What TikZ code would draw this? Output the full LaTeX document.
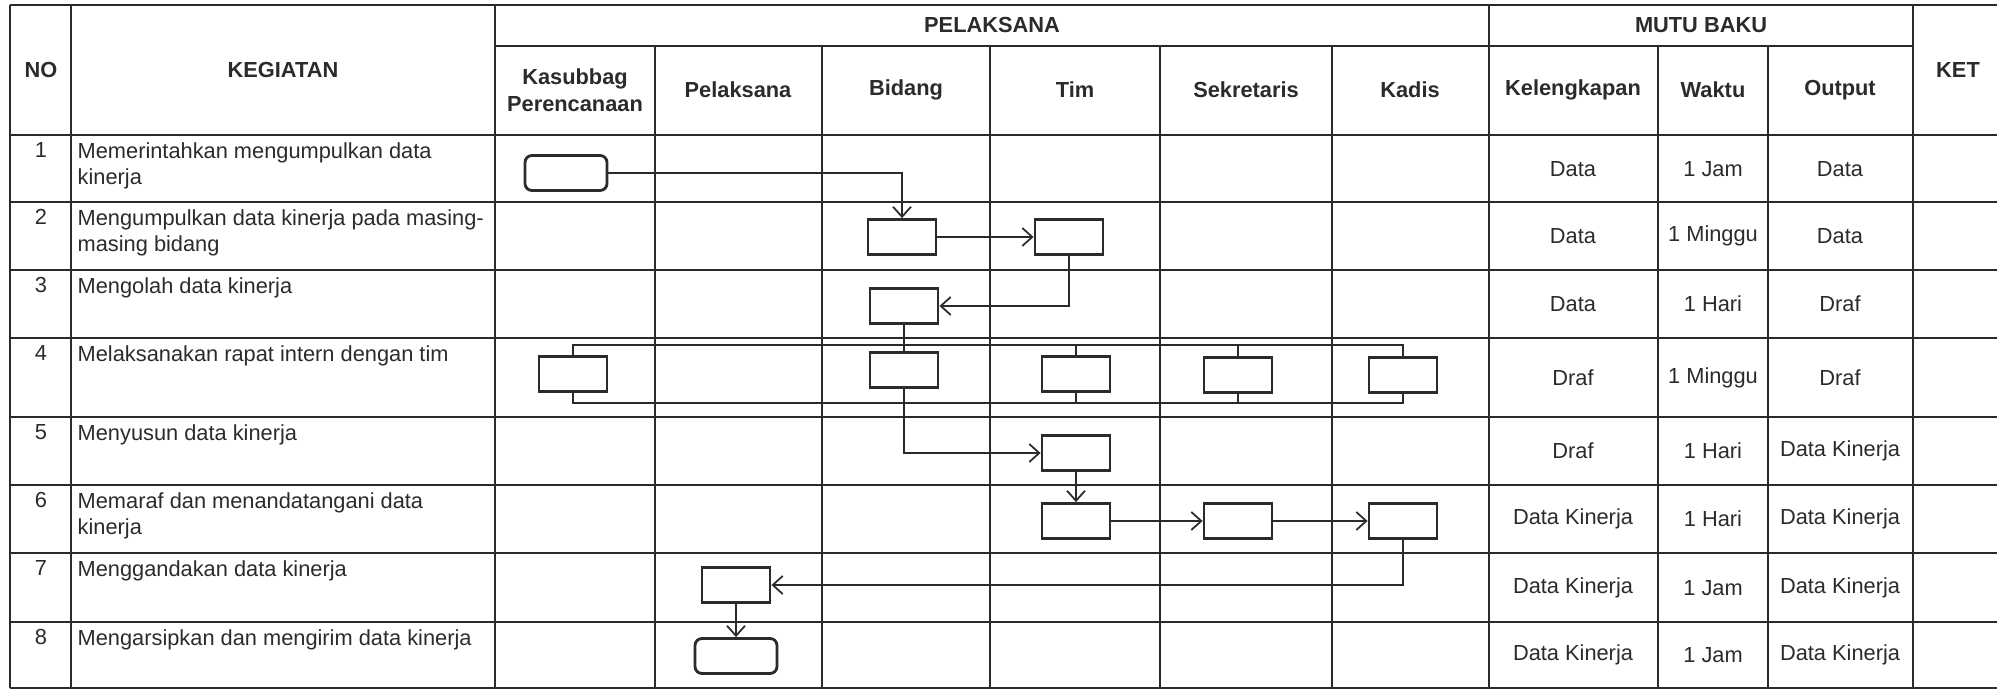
\documentclass[tikz,border=0pt]{standalone}
\usepackage{fontspec}
\setmainfont{Liberation Sans}
\usetikzlibrary{arrows.meta}
\tikzset{>={Straight Barb[length=1mm,width=1.8mm]}}
\definecolor{ink}{HTML}{2B2B2B}

\begin{document}
\begin{tikzpicture}[x=0.01cm,y=-0.01cm,color=ink,font=\fontsize{6.2}{7.4}\selectfont,
    act/.style = {draw, line width=0.8pt, minimum width=0.68cm, minimum height=0.35cm, inner sep=0pt},
    term/.style = {act, rounded corners=2pt, minimum width=0.82cm},
    hd/.style = {font=\fontsize{6.2}{7.8}\selectfont\bfseries, align=center},
    keg/.style = {anchor=north west, align=left, inner sep=0pt},
    num/.style = {anchor=north, inner sep=0pt},
    tline/.style = {line width=0.7pt},
    conn/.style = {line width=0.5pt}]
\useasboundingbox (0,0) rectangle (1997,689);
% table
\draw[tline] (10,5) -- (1997,5);
\draw[tline] (495,46) -- (1913,46);
\draw[tline] (10,135) -- (1997,135);
\draw[tline] (10,202) -- (1997,202);
\draw[tline] (10,270) -- (1997,270);
\draw[tline] (10,338) -- (1997,338);
\draw[tline] (10,417) -- (1997,417);
\draw[tline] (10,485) -- (1997,485);
\draw[tline] (10,553) -- (1997,553);
\draw[tline] (10,622) -- (1997,622);
\draw[tline] (10,688) -- (1997,688);
\draw[tline] (10,5) -- (10,688);
\draw[tline] (71,5) -- (71,688);
\draw[tline] (495,5) -- (495,688);
\draw[tline] (655,46) -- (655,688);
\draw[tline] (822,46) -- (822,688);
\draw[tline] (990,46) -- (990,688);
\draw[tline] (1160,46) -- (1160,688);
\draw[tline] (1332,46) -- (1332,688);
\draw[tline] (1489,5) -- (1489,688);
\draw[tline] (1658,46) -- (1658,688);
\draw[tline] (1768,46) -- (1768,688);
\draw[tline] (1913,5) -- (1913,688);

% headers
\node[hd] (hno) at (41,70) {NO};
\node[hd] (hkeg) at (283,70) {KEGIATAN};
\node[hd] (hpel) at (992,25) {PELAKSANA};
\node[hd] (hmutu) at (1701,25) {MUTU BAKU};
\node[hd] (hket) at (1958,70) {KET};
\node[hd] (hkas) at (575,90) {Kasubbag\\Perencanaan};
\node[hd] (hplk) at (738,90) {Pelaksana};
\node[hd] (hbid) at (906,90) {Bidang};
\node[hd] (htim) at (1075,90) {Tim};
\node[hd] (hsek) at (1246,90) {Sekretaris};
\node[hd] (hkad) at (1410,90) {Kadis};
\node[hd] (hkel) at (1573,90) {Kelengkapan};
\node[hd] (hwak) at (1713,90) {Waktu};
\node[hd] (hout) at (1840,90) {Output};

% kegiatan
\node[num] (n1) at (41,142) {1};
\node[keg] (a1) at (77,142) {Memerintahkan mengumpulkan data\\kinerja};
\node[num] (n2) at (41,209) {2};
\node[keg] (a2) at (77,209) {Mengumpulkan data kinerja pada masing-\\masing bidang};
\node[num] (n3) at (41,277) {3};
\node[keg] (a3) at (77,277) {Mengolah data kinerja};
\node[num] (n4) at (41,345) {4};
\node[keg] (a4) at (77,345) {Melaksanakan rapat intern dengan tim};
\node[num] (n5) at (41,424) {5};
\node[keg] (a5) at (77,424) {Menyusun data kinerja};
\node[num] (n6) at (41,492) {6};
\node[keg] (a6) at (77,492) {Memaraf dan menandatangani data\\kinerja};
\node[num] (n7) at (41,560) {7};
\node[keg] (a7) at (77,560) {Menggandakan data kinerja};
\node[num] (n8) at (41,629) {8};
\node[keg] (a8) at (77,629) {Mengarsipkan dan mengirim data kinerja};

% mutu baku
\node (c1) at (1573,169) {Data};
\node (w1) at (1713,169) {1 Jam};
\node (o1) at (1840,169) {Data};
\node (c2) at (1573,236) {Data};
\node (w2) at (1713,236) {1 Minggu};
\node (o2) at (1840,236) {Data};
\node (c3) at (1573,304) {Data};
\node (w3) at (1713,304) {1 Hari};
\node (o3) at (1840,304) {Draf};
\node (c4) at (1573,378) {Draf};
\node (w4) at (1713,378) {1 Minggu};
\node (o4) at (1840,378) {Draf};
\node (c5) at (1573,451) {Draf};
\node (w5) at (1713,451) {1 Hari};
\node (o5) at (1840,451) {Data Kinerja};
\node (c6) at (1573,519) {Data Kinerja};
\node (w6) at (1713,519) {1 Hari};
\node (o6) at (1840,519) {Data Kinerja};
\node (c7) at (1573,588) {Data Kinerja};
\node (w7) at (1713,588) {1 Jam};
\node (o7) at (1840,588) {Data Kinerja};
\node (c8) at (1573,655) {Data Kinerja};
\node (w8) at (1713,655) {1 Jam};
\node (o8) at (1840,655) {Data Kinerja};

% flow
\node[term] (k1) at (566,173) {};
\node[act] (b2) at (902,237) {};
\node[act] (t2) at (1069,237) {};
\node[act] (b3) at (904,306) {};
\node[act] (k4) at (573,374) {};
\node[act] (b4) at (904,370) {};
\node[act] (t4) at (1076,374) {};
\node[act] (s4) at (1238,375) {};
\node[act] (d4) at (1403,375) {};
\node[act] (t5) at (1076,453) {};
\node[act] (t6) at (1076,521) {};
\node[act] (s6) at (1238,521) {};
\node[act] (d6) at (1403,521) {};
\node[act] (p7) at (736,585) {};
\node[term] (p8) at (736,656) {};
\coordinate (lt) at (0,345);
\coordinate (lb) at (0,403);

\draw[conn,->] (k1) -| (b2);
\draw[conn,->] (b2) -- (t2);
\draw[conn,->] (t2) |- (b3);
\draw[conn] (b3) -- (b4);
\draw[conn] (k4) |- (lt -| d4) -- (d4);
\draw[conn] (t4) -- (t4 |- lt);
\draw[conn] (s4) -- (s4 |- lt);
\draw[conn] (k4) |- (lb -| d4) -- (d4);
\draw[conn] (t4) -- (t4 |- lb);
\draw[conn] (s4) -- (s4 |- lb);
\draw[conn,->] (b4) |- (t5);
\draw[conn,->] (t5) -- (t6);
\draw[conn,->] (t6) -- (s6);
\draw[conn,->] (s6) -- (d6);
\draw[conn,->] (d6) |- (p7);
\draw[conn,->] (p7) -- (p8);
\end{tikzpicture}
\end{document}
